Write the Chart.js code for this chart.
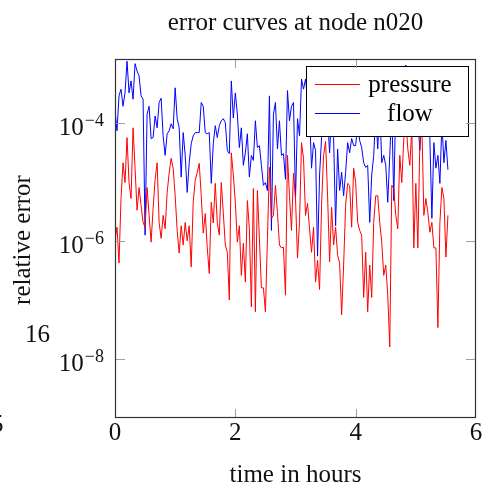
<!DOCTYPE html>
<html lang="en">
<head>
<meta charset="UTF-8">
<title>error curves at node n020</title>
<script src="https://cdn.jsdelivr.net/npm/chart.js"></script>
<style>
  body { margin: 0; background: #fff; }
  #wrap { width: 487px; height: 491px; }
</style>
</head>
<body>
<div id="wrap"><canvas id="errChart" width="487" height="491"></canvas></div>
<script>
  // samples every 2 minutes
  const sampleStepHours = 1 / 30;

  const pressureErr = [
    1.03e-6, 1.7e-6, 4.2e-7, 5.2e-6, 2.1e-5, 9.7e-6, 5.6e-5, 9.7e-6, 5.2e-6, 8.2e-5,
    1.7e-5, 3.3e-6, 8.0e-6, 4.0e-6, 2.05e-6, 1.7e-6, 8.0e-6, 2.7e-6, 9.5e-7, 3.5e-6,
    1.1e-5, 2.1e-5, 2.05e-6, 1.1e-6, 2.7e-6, 1.6e-6, 6.6e-6, 1.4e-5, 2.5e-5, 1.7e-5,
    5.8e-6, 1.5e-6, 6.2e-7, 1.8e-6, 8.5e-7, 2.05e-6, 1.0e-6, 1.8e-6, 3.6e-7, 4.5e-6,
    1.05e-5, 1.45e-5, 2.05e-5, 5.8e-6, 1.35e-6, 2.9e-6, 7.6e-7, 2.8e-7, 4.5e-6, 2.0e-6,
    9.4e-6, 2.05e-6, 1.25e-6, 9.7e-6, 3.0e-6, 8.5e-7, 6.4e-7, 1.0e-7, 3.1e-5, 1.3e-5,
    4.5e-6, 9.5e-7, 1.8e-6, 2.6e-7, 9.1e-7, 2.0e-7, 4.8e-6, 1.6e-6, 7.6e-8, 7.7e-6,
    6.3e-8, 7.1e-6, 1.1e-6, 1.6e-7, 1.6e-7, 6.3e-8, 1.1e-6, 1.75e-5, 2.4e-6, 2.7e-6,
    8.7e-6, 3.0e-6, 8.5e-7, 7.6e-7, 7.8e-7, 1.2e-7, 2.8e-5, 5.8e-6, 1.5e-6, 1.4e-5,
    5.2e-6, 5.1e-7, 2.05e-6, 4.6e-5, 2.5e-5, 2.7e-6, 4.3e-6, 1.6e-6, 6.4e-7, 1.7e-6,
    2.0e-7, 4.7e-7, 1.5e-7, 4.0e-6, 2.8e-5, 4.8e-5, 5.8e-6, 4.4e-7, 3.7e-6, 8.5e-7,
    1.7e-6, 5.7e-7, 4.2e-7, 5.6e-8, 3.9e-7, 4.0e-6, 9.4e-6, 8.7e-6, 1.7e-6, 1.7e-5,
    9.7e-6, 2.05e-6, 1.5e-6, 1.25e-6, 1.1e-7, 6.4e-7, 6.3e-8, 3.9e-7, 1.1e-7, 2.05e-6,
    5.8e-6, 5.8e-6, 2.05e-6, 9.5e-7, 2.6e-7, 3.9e-7, 1.2e-7, 1.6e-8, 8.7e-6, 7.7e-6,
    2.7e-6, 1.6e-6, 2.8e-5, 9.7e-6, 5.4e-5, 1.2e-4, 3.6e-5, 1.9e-5, 8.0e-5, 7.6e-7,
    9.4e-6, 7.6e-7, 4.6e-5, 1.0e-4, 2.7e-6, 5.2e-6, 3.0e-6, 1.4e-6, 2.05e-6, 7.6e-7,
    7.6e-7, 3.4e-8, 2.05e-6, 8.0e-6, 5.2e-6, 5.3e-7, 2.7e-6
  ];

  const flowErr = [
    1.6e-4, 7.3e-5, 2.85e-4, 3.7e-4, 1.9e-4, 3.2e-4, 1.1e-3, 3.2e-4, 5.1e-4, 2.5e-4,
    1.0e-3, 7.5e-4, 6.2e-4, 2.85e-4, 2.5e-4, 1.25e-6, 1.4e-4, 1.9e-4, 5.4e-5, 5.6e-5,
    1.3e-4, 8.2e-5, 2.2e-4, 2.6e-4, 6.0e-5, 2.8e-5, 6.5e-5, 7.3e-5, 9.6e-5, 7.9e-5,
    3.9e-4, 1.17e-4, 8.2e-5, 1.2e-5, 6.8e-5, 2.8e-5, 6.6e-6, 2.1e-5, 4.4e-5, 6.0e-5,
    6.8e-5, 6.8e-5, 6.8e-5, 2.2e-4, 1.9e-4, 6.8e-5, 6.5e-5, 6.8e-5, 9.4e-6, 4.4e-5,
    8.9e-5, 5.6e-5, 8.9e-5, 1.08e-4, 1.17e-4, 1.0e-4, 3.4e-5, 3.0e-5, 5.1e-4, 1.2e-4,
    3.2e-4, 1.4e-4, 3.8e-5, 8.2e-5, 1.9e-5, 3.1e-5, 6.5e-5, 1.2e-5, 2.8e-5, 2.3e-5,
    1.08e-4, 3.8e-5, 4.1e-5, 1.9e-5, 8.7e-6, 9.7e-6, 7.1e-6, 2.85e-4, 1.5e-6, 1.4e-4,
    2.2e-4, 3.6e-5, 1.08e-4, 2.8e-5, 3.0e-5, 1.1e-5, 3.5e-4, 1.08e-4, 1.9e-4, 2.2e-4,
    5.2e-6, 1.17e-4, 6.0e-5, 5.5e-4, 3.7e-4, 5.5e-4, 2.5e-4, 1.5e-4, 1.7e-5, 4.6e-5,
    3.4e-5, 5.5e-7, 1.3e-5, 5.6e-5, 2.0e-4, 3.0e-4, 1.2e-4, 3.1e-5, 1.5e-4, 5.6e-5,
    1.8e-6, 3.6e-5, 7.1e-6, 1.45e-5, 5.8e-6, 1.45e-5, 4.6e-5, 3.1e-5, 5.4e-5, 4.1e-5,
    4.1e-5, 1.0e-4, 5.0e-5, 3.8e-5, 2.1e-5, 1.75e-5, 1.9e-5, 2.05e-6, 1.3e-5, 2.8e-5,
    1.5e-4, 3.6e-5, 2.0e-4, 2.1e-5, 2.8e-5, 1.9e-5, 4.5e-6, 2.8e-5, 1.8e-4, 4.8e-6,
    2.5e-4, 4.0e-4, 1.5e-4, 3.0e-4, 6.0e-4, 9.5e-4, 2.0e-4, 1.2e-4, 3.0e-4, 1.5e-4,
    2.0e-4, 1.2e-4, 3.4e-5, 1.5e-4, 3.0e-4, 1.8e-4, 2.5e-4, 5.4e-5, 2.4e-6, 4.6e-5,
    1.7e-5, 2.8e-5, 9.4e-6, 1.0e-4, 2.1e-5, 5.0e-5, 1.6e-5
  ];

  const seriesNames = ['pressure', 'flow'];
  const seriesColors = ['#ff0000', '#0000ff'];
  const xTicks = [0, 2, 4, 6];
  const yTickExps = [-4, -6, -8];

  const FONT = '"Liberation Serif", "Times New Roman", serif';
  const toPoints = arr => arr.map((v, i) => ({ x: i * sampleStepHours, y: v }));

  // legend, frame, ticks and all texts in pgfplots style
  const decor = {
    id: 'decor',
    afterDraw(chart) {
      const { ctx, chartArea: a, scales: { x, y } } = chart;
      const line = (x1, y1, x2, y2) => { ctx.beginPath(); ctx.moveTo(x1, y1); ctx.lineTo(x2, y2); ctx.stroke(); };
      ctx.save();

      // legend box
      const lx = 306, ly = 66, lw = 162, lh = 70;
      ctx.fillStyle = '#fff';
      ctx.fillRect(lx, ly, lw, lh);
      ctx.strokeStyle = '#000';
      ctx.lineWidth = 1;
      ctx.strokeRect(lx + 0.5, ly + 0.5, lw, lh);
      ctx.font = '25px ' + FONT;
      ctx.textBaseline = 'middle';
      ctx.textAlign = 'center';
      seriesNames.forEach((name, i) => {
        const ry = 84 + i * 29;
        ctx.strokeStyle = chart.data.datasets[i].borderColor;
        line(315, ry + 0.5, 360, ry + 0.5);
        ctx.fillStyle = '#000';
        ctx.fillText(name, 410, ry + 1);
      });

      // ticks
      ctx.strokeStyle = '#a0a0a0';
      ctx.lineWidth = 1;
      xTicks.slice(1, -1).forEach(t => {
        const px = Math.round(x.getPixelForValue(t)) + 0.5;
        line(px, a.bottom, px, a.bottom - 9);
        line(px, a.top, px, a.top + 9);
      });
      yTickExps.forEach(e => {
        const py = Math.round(y.getPixelForValue(Math.pow(10, e))) + 0.5;
        line(a.left, py, a.left + 10, py);
        line(a.right, py, a.right - 10, py);
      });

      // frame
      ctx.strokeStyle = '#333';
      ctx.lineWidth = 1.2;
      ctx.strokeRect(a.left + 0.5, a.top + 0.5, a.right - a.left - 1, a.bottom - a.top - 1);

      ctx.fillStyle = '#111';
      // x tick labels
      ctx.font = '25px ' + FONT;
      ctx.textAlign = 'center';
      ctx.textBaseline = 'alphabetic';
      xTicks.forEach(t => ctx.fillText(String(t), x.getPixelForValue(t), 440));

      // y tick labels 10^e
      yTickExps.forEach(e => {
        const py = y.getPixelForValue(Math.pow(10, e));
        ctx.textAlign = 'right';
        ctx.font = '18px ' + FONT;
        const expTxt = '\u2212' + Math.abs(e);
        ctx.fillText(expTxt, 104, py + 3);
        const ew = ctx.measureText(expTxt).width;
        ctx.font = '25px ' + FONT;
        ctx.fillText('10', 104 - ew - 1, py + 12);
      });

      // axis titles
      ctx.textAlign = 'center';
      ctx.fillText('time in hours', (a.left + a.right) / 2, 482);
      ctx.save();
      ctx.translate(30, 240);
      ctx.rotate(-Math.PI / 2);
      ctx.fillText('relative error', 0, 0);
      ctx.restore();

      // title
      ctx.fillText('error curves at node n020', (a.left + a.right) / 2, 30);

      // stray labels left over at the left edge
      ctx.textAlign = 'left';
      ctx.fillText('16', 25, 342);
      ctx.fillText('5', -9, 432);

      ctx.restore();
    }
  };

  new Chart(document.getElementById('errChart'), {
    type: 'line',
    data: {
      datasets: [
        { label: seriesNames[0], data: toPoints(pressureErr), borderColor: seriesColors[0] },
        { label: seriesNames[1], data: toPoints(flowErr), borderColor: seriesColors[1] }
      ]
    },
    options: {
      responsive: false,
      animation: false,
      devicePixelRatio: 1,
      layout: { padding: { left: 115, right: 11, top: 59, bottom: 73 } },
      elements: {
        point: { radius: 0 },
        line: { borderWidth: 1, tension: 0, fill: false }
      },
      scales: {
        x: { type: 'linear', min: 0, max: 6, display: false },
        y: { type: 'logarithmic', min: 1e-9, max: 1.2e-3, display: false }
      },
      plugins: {
        legend: { display: false },
        title: { display: false },
        tooltip: { enabled: false }
      }
    },
    plugins: [decor]
  });
</script>
</body>
</html>
